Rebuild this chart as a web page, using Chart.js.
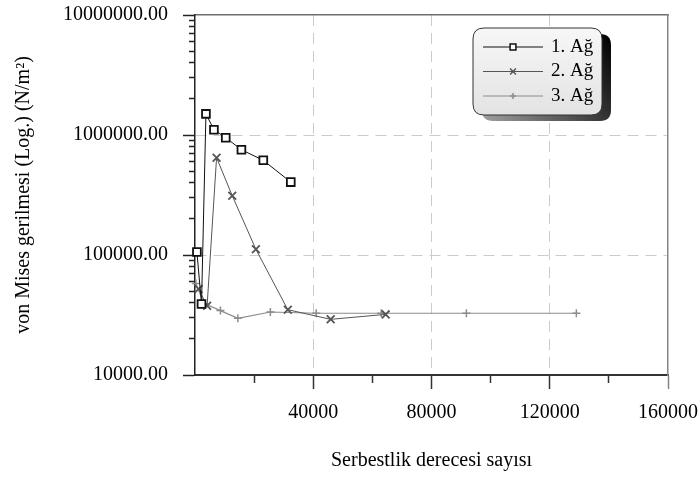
<!DOCTYPE html>
<html>
<head>
<meta charset="utf-8">
<script src="https://cdn.jsdelivr.net/npm/chart.js@4.4.1/dist/chart.umd.min.js"></script>
<style>
  html, body { margin: 0; padding: 0; background: #fff; }
  canvas { display: block; }
</style>
</head>
<body>
<canvas id="chart" width="700" height="477"></canvas>
<script>
// Mesh names (legend order)
const meshNames = ['1. Ağ', '2. Ağ', '3. Ağ'];

// Degrees of freedom (x) and von Mises stress in N/m² (y) per mesh
const dof1 = [650, 2200, 3700, 6400, 10400, 15700, 23100, 32400];
const stress1 = [106000, 39000, 1500000, 1107000, 950000, 754000, 615000, 405000];

const dof2 = [1200, 4100, 7300, 12600, 20600, 31400, 45900, 64500];
const stress2 = [52000, 37800, 647000, 312000, 111500, 35000, 29100, 32000];

const dof3 = [300, 3000, 8600, 14500, 25500, 41000, 63000, 91800, 129000];
const stress3 = [58000, 39500, 34400, 29700, 33500, 32700, 32700, 32700, 32700];

// Axis ticks
const yDecades = [10000, 100000, 1000000, 10000000];
const xLabelTicks = [40000, 80000, 120000, 160000];

const FONT = 'Liberation Serif';

function zip(xs, ys) {
  return xs.map((x, i) => ({ x: x, y: ys[i] }));
}

// full log tick set: 1..9 × each decade, plus the last decade
const yTickValues = [];
yDecades.forEach((d, i) => {
  if (i === yDecades.length - 1) { yTickValues.push(d); return; }
  for (let k = 1; k <= 9; k++) yTickValues.push(k * d);
});

function roundRectPath(ctx, x, y, w, h, r) {
  ctx.beginPath();
  ctx.moveTo(x + r, y);
  ctx.lineTo(x + w - r, y);
  ctx.quadraticCurveTo(x + w, y, x + w, y + r);
  ctx.lineTo(x + w, y + h - r);
  ctx.quadraticCurveTo(x + w, y + h, x + w - r, y + h);
  ctx.lineTo(x + r, y + h);
  ctx.quadraticCurveTo(x, y + h, x, y + h - r);
  ctx.lineTo(x, y + r);
  ctx.quadraticCurveTo(x, y, x + r, y);
  ctx.closePath();
}

// Framed legend with drop shadow in the upper right of the plot
const legendBox = {
  id: 'legendBox',
  afterDraw(chart) {
    const { ctx, chartArea } = chart;
    const left = chartArea.right - 195;
    const top = chartArea.top + 13;
    const w = 129, h = 87, r = 11;
    ctx.save();
    const sg = ctx.createLinearGradient(left + w + 9, top + 6, left + 9, top + h + 6);
    sg.addColorStop(0, '#000000');
    sg.addColorStop(1, '#a0a0a0');
    ctx.fillStyle = sg;
    roundRectPath(ctx, left + 9, top + 6, w, h, r);
    ctx.fill();

    const bg = ctx.createLinearGradient(0, top, 0, top + h);
    bg.addColorStop(0, '#f7f7f7');
    bg.addColorStop(1, '#e3e3e3');
    ctx.fillStyle = bg;
    roundRectPath(ctx, left, top, w, h, r);
    ctx.fill();
    ctx.lineWidth = 1;
    ctx.strokeStyle = '#333';
    ctx.stroke();

    chart.data.datasets.forEach((ds, i) => {
      const y = top + 19 + i * 24.5;
      ctx.strokeStyle = ds.borderColor;
      ctx.lineWidth = ds.borderWidth;
      ctx.beginPath();
      ctx.moveTo(left + 10, y);
      ctx.lineTo(left + 70, y);
      ctx.stroke();
      ctx.fillStyle = ds.pointBackgroundColor;
      ctx.strokeStyle = ds.pointBorderColor;
      ctx.lineWidth = 1.5;
      Chart.helpers.drawPoint(ctx, {
        pointStyle: ds.pointStyle,
        radius: ds.pointRadius * 0.75,
        borderWidth: 1.5,
        rotation: 0
      }, left + 40, y);
      ctx.fillStyle = '#000';
      ctx.font = '19px "' + FONT + '"';
      ctx.textAlign = 'left';
      ctx.textBaseline = 'middle';
      ctx.fillText(meshNames[i], left + 78, y);
    });
    ctx.restore();
  }
};

const transparent = 'rgba(0,0,0,0)';
const isDecade = (c) => c.tick && yDecades.includes(c.tick.value);

new Chart(document.getElementById('chart'), {
  type: 'line',
  data: {
    datasets: [
      {
        label: meshNames[0],
        data: zip(dof1, stress1),
        borderColor: '#111111',
        borderWidth: 1,
        pointStyle: 'rect',
        pointRadius: 5.5,
        pointBorderWidth: 1.8,
        pointBackgroundColor: '#ffffff',
        pointBorderColor: '#111111',
        clip: false
      },
      {
        label: meshNames[1],
        data: zip(dof2, stress2),
        borderColor: '#555555',
        borderWidth: 1,
        pointStyle: 'crossRot',
        pointRadius: 5.5,
        pointBorderWidth: 1.8,
        pointBackgroundColor: '#555555',
        pointBorderColor: '#555555',
        clip: false
      },
      {
        label: meshNames[2],
        data: zip(dof3, stress3),
        borderColor: '#8c8c8c',
        borderWidth: 1.2,
        pointStyle: 'cross',
        pointRadius: 4,
        pointBorderWidth: 1.5,
        pointBackgroundColor: '#8c8c8c',
        pointBorderColor: '#8c8c8c',
        clip: false
      }
    ]
  },
  options: {
    responsive: false,
    animation: false,
    devicePixelRatio: 1,
    layout: { padding: { top: 15, right: 32, left: 0, bottom: 0 } },
    plugins: {
      legend: { display: false },
      tooltip: { enabled: false }
    },
    elements: { line: { tension: 0, fill: false } },
    scales: {
      x: {
        type: 'linear',
        position: 'bottom',
        min: 0,
        max: 160000,
        ticks: {
          stepSize: 20000,
          autoSkip: false,
          maxRotation: 0,
          color: '#000',
          padding: 0,
          font: { family: FONT, size: 20 },
          callback: (v) => xLabelTicks.includes(v) ? String(v) : ''
        },
        grid: {
          // long tick slot; the visible mark is set by the dash pattern
          tickLength: 26,
          lineWidth: 1,
          color: (c) => {
            const v = c.tick ? c.tick.value : null;
            return (v > 0 && v < 160000 && v % 40000 === 0) ? '#cccccc' : transparent;
          },
          tickColor: (c) => {
            const v = c.tick ? c.tick.value : null;
            if (v === 0) return transparent;
            return v === 160000 ? '#858585' : '#333333';
          },
          tickWidth: 1.5,
          tickBorderDash: (c) => (c.tick && c.tick.value % 40000 === 0) ? [13, 100] : [7, 100]
        },
        border: { color: '#333333', width: 2, dash: [11, 7] },
        title: {
          display: true,
          text: 'Serbestlik derecesi sayısı',
          color: '#000',
          font: { family: FONT, size: 20 },
          padding: { top: 0, bottom: 4 }
        },
        afterFit: (s) => { s.height = 102; }
      },
      xTop: {
        type: 'linear',
        position: 'top',
        display: true,
        min: 0,
        max: 1,
        ticks: { display: false },
        grid: { display: false, drawTicks: false },
        border: { display: true, color: '#6e6e6e', width: 1.5 },
        afterFit: (s) => { s.height = 0; }
      },
      y: {
        type: 'logarithmic',
        position: 'left',
        min: 10000,
        max: 10000000,
        afterBuildTicks: (s) => {
          s.ticks = yTickValues.map((v) => ({ value: v, major: yDecades.includes(v) }));
        },
        ticks: {
          autoSkip: false,
          color: '#000',
          padding: 0,
          font: { family: FONT, size: 20 },
          callback: (v) => yDecades.includes(v) ? Number(v).toFixed(2) : ''
        },
        grid: {
          // tick slot of 27px drawn from the outer end; only the part next to the axis is inked
          tickLength: 27,
          lineWidth: 1,
          color: (c) => {
            const v = c.tick ? c.tick.value : null;
            return (v === 100000 || v === 1000000) ? '#cccccc' : transparent;
          },
          tickColor: '#222222',
          tickWidth: 1.5,
          tickBorderDash: (c) => isDecade(c) ? [12, 100] : [6, 100],
          tickBorderDashOffset: (c) => isDecade(c) ? 97 : 85
        },
        border: { color: '#222222', width: 1.5, dash: [11, 7] },
        title: {
          display: true,
          text: 'von Mises gerilmesi (Log.) (N/m²)',
          color: '#000',
          font: { family: FONT, size: 20 },
          padding: { top: 12, bottom: 0 }
        },
        afterFit: (s) => { s.width = 195; }
      },
      yRight: {
        type: 'linear',
        position: 'right',
        display: true,
        min: 0,
        max: 1,
        ticks: { display: false },
        grid: { display: false, drawTicks: false },
        border: { display: true, color: '#858585', width: 1.5 },
        afterFit: (s) => { s.width = 0; }
      }
    }
  },
  plugins: [legendBox]
});
</script>
</body>
</html>
